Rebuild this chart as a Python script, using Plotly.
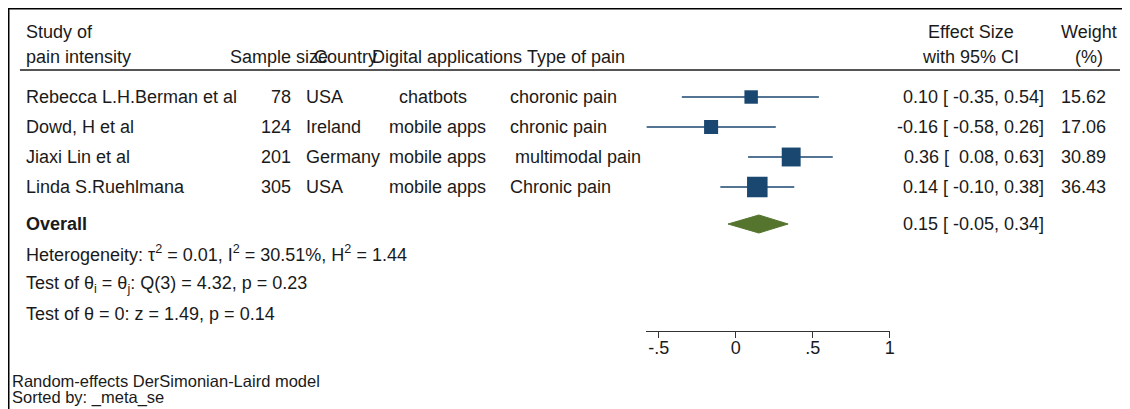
import plotly.graph_objects as go

# ---------------- data ----------------
studies = ["Rebecca L.H.Berman et al", "Dowd, H et al", "Jiaxi Lin et al", "Linda S.Ruehlmana"]
sample_size = [78, 124, 201, 305]
country = ["USA", "Ireland", "Germany", "USA"]
digital_app = ["  chatbots", "mobile apps", "mobile apps", "mobile apps"]
pain_type = ["choronic pain", "chronic pain", " multimodal pain", "Chronic pain"]
effect = [0.10, -0.16, 0.36, 0.14]
ci_low = [-0.35, -0.58, 0.08, -0.10]
ci_high = [0.54, 0.26, 0.63, 0.38]
weight = [15.62, 17.06, 30.89, 36.43]

overall_effect = 0.15
overall_low = -0.05
overall_high = 0.34

tick_vals = [-0.5, 0, 0.5, 1]
tick_text = ["-.5", "0", ".5", "1"]

header_left = ["Study of", "pain intensity"]
header_cols = ["Sample size", "Country", "Digital applications", "Type of pain"]
het_lines = [
    "Heterogeneity: τ<sup>2</sup> = 0.01, I<sup>2</sup> = 30.51%, H<sup>2</sup> = 1.44",
    "Test of θ<sub>i</sub> = θ<sub>j</sub>: Q(3) = 4.32, p = 0.23",
    "Test of θ = 0: z = 1.49, p = 0.14",
]
footnotes = ["Random-effects DerSimonian-Laird model", "Sorted by: _meta_se"]

# ---------------- layout helpers ----------------
# the page body adds an 8px margin, so the figure is drawn 8px in from the window edge
OFF = 8
WIN_W, WIN_H = 1130, 409
W, H = WIN_W - OFF, WIN_H - OFF
ROW0_PX, ROW_STEP = 97, 30
FONT = "Liberation Sans, Arial, Helvetica, sans-serif"
TXT = "#1a1a1a"
BLUE = "#1a476f"
GREEN = "#55752f"


def row_of(py):
    return 1 + (py - ROW0_PX) / ROW_STEP


def xp(px):
    return (px - OFF) / W


def yp(py):
    return 1 - (py - OFF) / H


def nb(s):
    return s.replace(" ", "\u00a0")


rows = list(range(1, len(studies) + 1))
overall_row = row_of(224)

fig = go.Figure()

# CI lines
xs, ys = [], []
for lo, hi, r in zip(ci_low, ci_high, rows):
    xs += [lo, hi, None]
    ys += [r, r, None]
fig.add_trace(go.Scatter(x=xs, y=ys, mode="lines", line=dict(color=BLUE, width=1.5),
                         opacity=1, hoverinfo="skip", showlegend=False))

# weighted squares
fig.add_trace(go.Scatter(
    x=effect, y=rows, mode="markers", opacity=1,
    marker=dict(symbol="square", color=BLUE, opacity=1,
                size=[3.4 * w ** 0.5 for w in weight], line=dict(width=0)),
    cliponaxis=False, showlegend=False))

# overall diamond
dh = 0.3
fig.add_trace(go.Scatter(
    x=[overall_low, overall_effect, overall_high, overall_effect, overall_low],
    y=[overall_row, overall_row - dh, overall_row, overall_row + dh, overall_row],
    mode="lines", fill="toself", fillcolor=GREEN, line=dict(color=GREEN, width=1),
    showlegend=False, hoverinfo="skip"))

ann = []


def add_text(text, px, row, anchor="left", size=18, bold=False):
    t = f"<b>{text}</b>" if bold else text
    ann.append(dict(text=t, x=xp(px), xref="paper", y=row, yref="y",
                    xanchor=anchor, yanchor="middle", showarrow=False,
                    font=dict(family=FONT, size=size, color=TXT)))


# header
add_text(header_left[0], 24, row_of(32))
add_text(header_left[1], 24, row_of(57))
col_x = [229, 313, 372, 527]
for cx, h in zip(col_x, header_cols):
    add_text(nb(h), cx, row_of(57))
add_text("Effect Size", 975, row_of(32), anchor="center")
add_text("with 95% CI", 975, row_of(57), anchor="center")
add_text("Weight", 1094, row_of(32), anchor="center")
add_text("(%)", 1094, row_of(57), anchor="center")

# rows
for i, r in enumerate(rows):
    add_text(studies[i], 24, r)
    add_text(str(sample_size[i]), 294, r, anchor="right")
    add_text(nb(country[i]), 305, r)
    add_text(nb(digital_app[i]), 389, r)
    add_text(nb(pain_type[i]), 510, r)
    es_txt = f"{effect[i]:.2f} [ {ci_low[i]:5.2f}, {ci_high[i]:.2f}]"
    add_text(nb(es_txt), 1051, r, anchor="right")
    add_text(f"{weight[i]:.2f}", 1113, r, anchor="right")

add_text("Overall", 24, overall_row, bold=True)
ov_txt = f"{overall_effect:.2f} [ {overall_low:5.2f}, {overall_high:.2f}]"
add_text(nb(ov_txt), 1051, overall_row, anchor="right")

for py, t in zip([253, 284, 314], het_lines):
    add_text(t, 24, row_of(py))

for py, t in zip([381, 397], footnotes):
    add_text(t, 10, row_of(py), size=16.5)

shapes = [
    dict(type="line", xref="paper", yref="paper", x0=0, x1=1, y0=yp(OFF + 0.5), y1=yp(OFF + 0.5),
         line=dict(color="#000", width=2)),
    dict(type="line", xref="paper", yref="paper", x0=0.5 / W, x1=0.5 / W, y0=0, y1=yp(OFF + 0.5),
         line=dict(color="#000", width=2)),
    dict(type="line", xref="paper", yref="paper", x0=xp(20), x1=xp(1125), y0=yp(70), y1=yp(70),
         line=dict(color="#555", width=2)),
]

zero_px, unit_px = 739, 154.7
x_lo, x_hi = -0.58, 1.0
fig.update_layout(
    width=W, height=H, margin=dict(l=0, r=0, t=0, b=0),
    paper_bgcolor="white", plot_bgcolor="white",
    showlegend=False, annotations=ann, shapes=shapes,
    xaxis=dict(domain=[xp(zero_px + x_lo * unit_px), xp(zero_px + x_hi * unit_px)],
               range=[x_lo, x_hi], anchor="free", position=yp(331),
               showline=True, linecolor="#333", linewidth=1,
               ticks="outside", ticklen=6, tickcolor="#333", tickwidth=1,
               ticklabelstandoff=-6,
               tickvals=tick_vals, ticktext=tick_text,
               tickfont=dict(family=FONT, size=18, color=TXT),
               showgrid=False, zeroline=False, fixedrange=True),
    yaxis=dict(domain=[0, 1], range=[row_of(WIN_H), row_of(OFF)], visible=False,
               showgrid=False, zeroline=False, fixedrange=True),
    font=dict(family=FONT, color=TXT),
)

fig.write_html("out.html")
